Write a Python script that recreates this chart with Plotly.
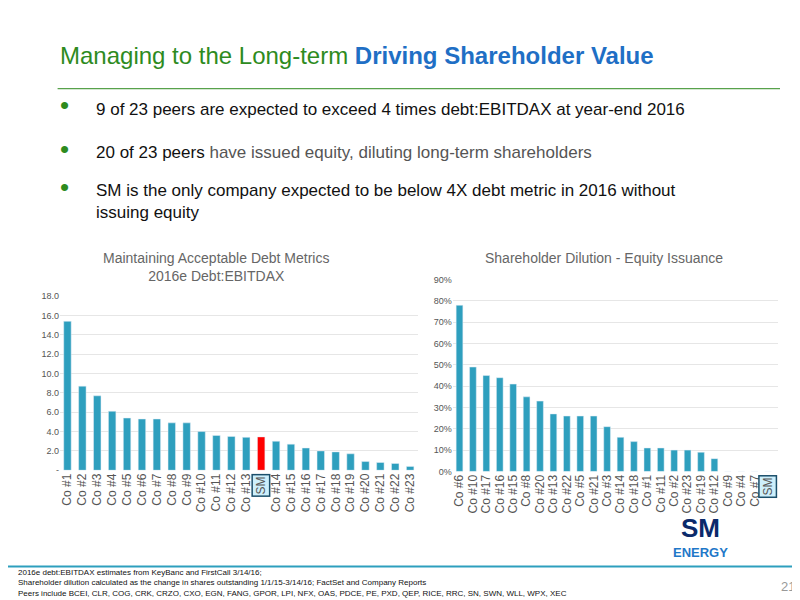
import plotly.graph_objects as go

# Left chart: 2016e Debt:EBITDAX
debt_cats = ['Co #1', 'Co #2', 'Co #3', 'Co #4', 'Co #5', 'Co #6', 'Co #7', 'Co #8', 'Co #9',
             'Co #10', 'Co #11', 'Co #12', 'Co #13', 'SM', 'Co #14', 'Co #15', 'Co #16',
             'Co #17', 'Co #18', 'Co #19', 'Co #20', 'Co #21', 'Co #22', 'Co #23']
debt_vals = [15.4, 8.7, 7.7, 6.1, 5.4, 5.3, 5.3, 4.9, 4.9, 4.0, 3.6, 3.5, 3.4, 3.45, 3.0, 2.7,
             2.3, 2.0, 1.9, 1.7, 0.9, 0.8, 0.7, 0.4]
debt_ticks = [0, 2, 4, 6, 8, 10, 12, 14, 16, 18]
debt_ticktext = ['-', '2.0', '4.0', '6.0', '8.0', '10.0', '12.0', '14.0', '16.0', '18.0']

# Right chart: share dilution
dil_cats = ['Co #6', 'Co #10', 'Co #17', 'Co #16', 'Co #15', 'Co #8', 'Co #20', 'Co #13', 'Co #22',
            'Co #5', 'Co #21', 'Co #3', 'Co #14', 'Co #18', 'Co #1', 'Co #11', 'Co #2', 'Co #23',
            'Co #19', 'Co #12', 'Co #9', 'Co #4', 'Co #7', 'SM']
dil_vals = [0.78, 0.49, 0.45, 0.44, 0.41, 0.35, 0.33, 0.27, 0.26, 0.26, 0.26, 0.21, 0.16, 0.14,
            0.11, 0.11, 0.10, 0.10, 0.09, 0.06, 0, 0, 0, 0]

BAR = '#2E9FBE'
GREEN = '#2E8B1E'
BLUE = '#1F6FC5'
FONT = 'Liberation Sans'

fig = go.Figure()
fig.add_trace(go.Bar(x=debt_cats, y=debt_vals, width=0.5,
                     marker_color=[('#FF0000' if c == 'SM' else BAR) for c in debt_cats],
                     xaxis='x', yaxis='y'))
fig.add_trace(go.Bar(x=dil_cats, y=dil_vals, width=0.5, marker_color=BAR,
                     xaxis='x2', yaxis='y2'))

tick_font = dict(family=FONT, size=12, color='#555')
fig.update_layout(
    width=800, height=600, showlegend=False,
    margin=dict(l=0, r=0, t=0, b=0),
    paper_bgcolor='white', plot_bgcolor='white',
    font=dict(family=FONT),
    xaxis=dict(domain=[0.065, 0.512], anchor='y', tickangle=-90, tickfont=tick_font,
               tickvals=debt_cats, ticktext=[('' if c == 'SM' else c) for c in debt_cats]),
    yaxis=dict(domain=[0.225, 0.52], anchor='x', range=[0, 18], tickvals=debt_ticks,
               ticktext=debt_ticktext, gridcolor='#E6E6E6', tickfont=dict(family=FONT, size=9, color='#555')),
    xaxis2=dict(domain=[0.556, 0.962], anchor='y2', tickangle=-90, tickfont=tick_font,
                tickvals=dil_cats, ticktext=[('' if c == 'SM' else c) for c in dil_cats]),
    yaxis2=dict(domain=[0.223, 0.548], anchor='x2', range=[0, 0.9], dtick=0.1, tickformat='.0%',
                gridcolor='#E6E6E6', tickfont=dict(family=FONT, size=9, color='#555')),
)


def py(pix):
    return 1 - pix / 600


ann = []
# SM labels with boxes
for xr, yr in (('x', 'y'), ('x2', 'y2')):
    ann.append(dict(x='SM', y=0, xref=xr, yref=yr, yanchor='top', yshift=-4, text='SM', textangle=-90,
                    showarrow=False, font=dict(family=FONT, size=12, color='#555'),
                    bgcolor='#CDEFFB', bordercolor='#1B4F6B', borderwidth=1.5, borderpad=1))
# title
ann.append(dict(x=0.062, y=py(43), xref='paper', yref='paper', xanchor='left', yanchor='middle', showarrow=False,
                text="<span style='color:%s'>Managing to the Long-term </span><b style='color:%s'>Driving Shareholder Value</b>" % (GREEN, BLUE),
                font=dict(family=FONT, size=24)))
bullets = [(98, 94, '9 of 23 peers are expected to exceed 4 times debt:EBITDAX at year-end 2016'),
           (142, 138, "20 of 23 peers <span style='color:#555'>have issued equity, diluting long-term shareholders</span>"),
           (192, 177, 'SM is the only company expected to be below 4X debt metric in 2016 without<br>issuing equity')]
for yy, by, t in bullets:
    ann.append(dict(x=0.062, y=py(by), xref='paper', yref='paper', xanchor='left', yanchor='middle',
                    showarrow=False, text='•', font=dict(family=FONT, size=26, color=GREEN)))
    ann.append(dict(x=0.108, y=py(yy), xref='paper', yref='paper', xanchor='left', yanchor='middle', align='left',
                    showarrow=False, text=t, font=dict(family=FONT, size=17, color='#111')))
ann.append(dict(x=0.26, y=py(258), xref='paper', yref='paper', xanchor='center', yanchor='middle', showarrow=False,
                text='Maintaining Acceptable Debt Metrics<br>2016e Debt:EBITDAX',
                font=dict(family=FONT, size=14, color='#666')))
ann.append(dict(x=0.745, y=py(249), xref='paper', yref='paper', xanchor='center', yanchor='middle', showarrow=False,
                text='Shareholder Dilution - Equity Issuance', font=dict(family=FONT, size=14, color='#666')))
ann.append(dict(x=0.865, y=py(524), xref='paper', yref='paper', xanchor='center', yanchor='middle', showarrow=False,
                text='<b>SM</b>', font=dict(family=FONT, size=26, color='#0B2A6B')))
ann.append(dict(x=0.865, y=py(549), xref='paper', yref='paper', xanchor='center', yanchor='middle', showarrow=False,
                text='<b>ENERGY</b>', font=dict(family=FONT, size=13, color='#1F78C8')))
ann.append(dict(x=0.01, y=py(580), xref='paper', yref='paper', xanchor='left', yanchor='middle', align='left',
                showarrow=False,
                text='2016e debt:EBITDAX estimates from KeyBanc and FirstCall 3/14/16;<br>'
                     'Shareholder dilution calculated as the change in shares outstanding 1/1/15-3/14/16; FactSet and Company Reports<br>'
                     'Peers include BCEI, CLR, COG, CRK, CRZO, CXO, EGN, FANG, GPOR, LPI, NFX, OAS, PDCE, PE, PXD, QEP, RICE, RRC, SN, SWN, WLL, WPX, XEC',
                font=dict(family=FONT, size=8, color='#111')))
ann.append(dict(x=0.975, y=py(583), xref='paper', yref='paper', xanchor='center', yanchor='middle', showarrow=False,
                text='21', font=dict(family=FONT, size=13, color='#999')))
fig.update_layout(annotations=ann, shapes=[
    dict(type='line', xref='paper', yref='paper', x0=0.062, x1=0.965, y0=py(77), y1=py(77),
         line=dict(color=GREEN, width=1)),
    dict(type='line', xref='paper', yref='paper', x0=0, x1=1, y0=py(563), y1=py(563),
         line=dict(color='#2E9FBE', width=2)),
])

fig.write_html('out.html')
